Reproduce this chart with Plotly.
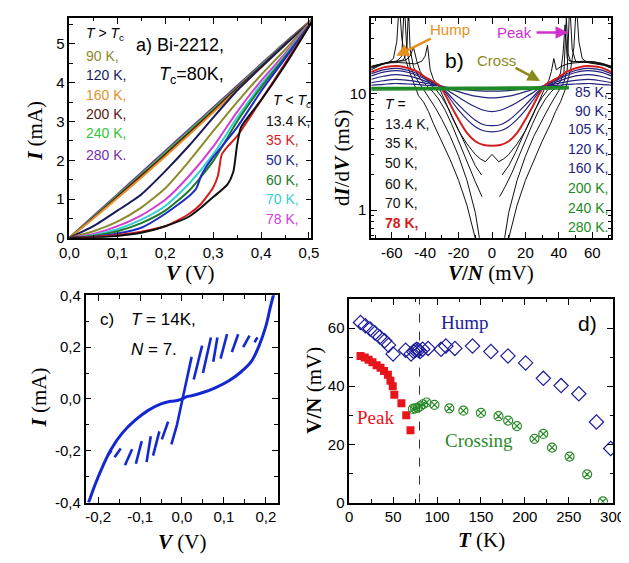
import plotly.graph_objects as go

W, H = 629, 563
def px(x): return x / W
def py(y): return 1 - y / H

# ---------------- Panel a data: I-V curves (V in V, I in mA) ----------------
a_V_lin = [0, 0.05, 0.1, 0.15, 0.2, 0.25, 0.3, 0.35, 0.4, 0.45, 0.505]
a_I_280 = [0, 0.56, 1.12, 1.68, 2.24, 2.80, 3.36, 3.92, 4.48, 5.04, 5.62]
a_I_240 = [0, 0.54, 1.09, 1.64, 2.20, 2.76, 3.32, 3.88, 4.45, 5.02, 5.62]
a_I_200 = [0, 0.52, 1.06, 1.60, 2.15, 2.71, 3.28, 3.85, 4.42, 5.00, 5.62]
a_I_160 = [0, 0.50, 1.02, 1.55, 2.10, 2.66, 3.23, 3.81, 4.39, 4.98, 5.62]
a_I_120 = [0, 0.30, 0.70, 1.12, 1.72, 2.38, 3.10, 3.80, 4.40, 4.98, 5.60]
a_I_90 = [0, 0.17, 0.42, 0.78, 1.28, 1.98, 2.75, 3.50, 4.20, 4.85, 5.60]
a_I_78 = [0, 0.10, 0.30, 0.58, 0.98, 1.60, 2.35, 3.25, 4.05, 4.75, 5.58]
a_I_70 = [0, 0.07, 0.22, 0.47, 0.82, 1.40, 2.15, 3.10, 3.95, 4.70, 5.57]
a_I_60 = [0, 0.05, 0.17, 0.38, 0.70, 1.22, 1.98, 3.00, 3.88, 4.67, 5.56]
a_V_50 = [0, 0.05, 0.1, 0.15, 0.2, 0.25, 0.265, 0.275, 0.285, 0.3, 0.35, 0.4, 0.45, 0.505]
a_I_50 = [0, 0.03, 0.11, 0.26, 0.62, 1.08, 1.28, 1.60, 1.82, 2.08, 2.85, 3.78, 4.62, 5.56]
a_V_35 = [0, 0.05, 0.1, 0.15, 0.2, 0.25, 0.275, 0.3, 0.31, 0.318, 0.33, 0.35, 0.4, 0.45, 0.505]
a_I_35 = [0, 0.02, 0.07, 0.16, 0.30, 0.62, 0.88, 1.30, 1.60, 2.15, 2.35, 2.62, 3.55, 4.50, 5.55]
a_V_13 = [0, 0.05, 0.1, 0.15, 0.2, 0.25, 0.275, 0.3, 0.33, 0.342, 0.35, 0.358, 0.375, 0.4, 0.45, 0.505]
a_I_13 = [0, 0.01, 0.05, 0.13, 0.30, 0.55, 0.78, 1.05, 1.38, 1.70, 2.40, 2.85, 3.15, 3.55, 4.45, 5.55]

# ---------------- Panel b data: dI/dV (mS) vs V/N (mV) ----------------
b_V = [-72.3, -65, -60, -55, -50, -45, -40, -36, -32, -28, -24, -20, -15, -10, -5, 0,
       5, 10, 15, 20, 24, 28, 32, 36, 40, 45, 50, 55, 60, 65, 71.5]
b_G_78 = [15.3, 16.8, 17.2, 17.2, 16.5, 15.5, 13.9, 12.9, 11.9, 9.8, 7.6, 6.0, 4.6, 3.9, 3.62, 3.57,
          3.62, 3.9, 4.6, 6.0, 7.6, 9.8, 11.9, 12.9, 13.9, 15.5, 16.5, 17.2, 17.2, 16.8, 15.3]
b_G_85 = [14.8, 16.0, 16.4, 16.4, 15.8, 14.9, 13.6, 12.7, 11.9, 10.3, 8.6, 7.2, 6.0, 5.2, 4.8, 4.7,
          4.8, 5.2, 6.0, 7.2, 8.6, 10.3, 11.9, 12.7, 13.6, 14.9, 15.8, 16.4, 16.4, 16.0, 14.8]
b_G_90 = [14.2, 15.3, 15.7, 15.7, 15.2, 14.4, 13.3, 12.5, 11.9, 10.6, 9.2, 8.0, 6.8, 5.9, 5.4, 5.3,
          5.4, 5.9, 6.8, 8.0, 9.2, 10.6, 11.9, 12.5, 13.3, 14.4, 15.2, 15.7, 15.7, 15.3, 14.2]
b_G_105 = [13.3, 14.1, 14.5, 14.5, 14.2, 13.6, 12.8, 12.2, 11.8, 11.0, 10.1, 9.3, 8.4, 7.7, 7.2, 7.0,
           7.2, 7.7, 8.4, 9.3, 10.1, 11.0, 11.8, 12.2, 12.8, 13.6, 14.2, 14.5, 14.5, 14.1, 13.3]
b_G_120 = [12.4, 12.9, 13.2, 13.2, 13.0, 12.7, 12.3, 12.0, 11.8, 11.3, 10.8, 10.4, 9.9, 9.5, 9.3, 9.2,
           9.3, 9.5, 9.9, 10.4, 10.8, 11.3, 11.8, 12.0, 12.3, 12.7, 13.0, 13.2, 13.2, 12.9, 12.4]
b_G_160 = [11.8, 12.0, 12.2, 12.2, 12.1, 12.0, 11.8, 11.7, 11.7, 11.4, 11.2, 11.0, 10.8, 10.6, 10.5, 10.5,
           10.5, 10.6, 10.8, 11.0, 11.2, 11.4, 11.7, 11.7, 11.8, 12.0, 12.1, 12.2, 12.2, 12.0, 11.8]
b_V_green = [-72.3, -40, 0, 40, 46]
b_G_200 = [11.25, 11.3, 11.35, 11.45, 11.5]
b_G_240 = [11.0, 11.05, 11.1, 11.2, 11.25]
b_G_280 = [10.75, 10.8, 10.85, 10.95, 11.0]

b_V_13L = [-72.3, -67, -62, -59, -57, -55.5, -54, -52, -49, -46, -44, -41, -38, -35, -30, -25, -20, -15, -10]
b_G_13L = [16.0, 17.5, 18.5, 20, 28, 60, 30, 20, 15, 11.5, 9.6, 8.5, 7.0, 5.5, 3.9, 2.7, 1.8, 1.1, 0.57]
b_V_13R = [10, 15, 20, 25, 30, 35, 38, 41, 44, 47, 49, 50.5, 52, 54, 57, 62, 67, 71.5]
b_G_13R = [0.57, 1.1, 1.8, 2.7, 3.9, 5.5, 7.0, 8.5, 11, 16, 25, 60, 28, 20, 18.5, 18, 17.5, 16.5]
b_V_35L = [-72.3, -66, -61, -57, -54, -52.5, -51, -49, -46, -43, -40, -37, -34, -30, -25, -20, -15, -10, -7.5]
b_G_35L = [16.5, 17.8, 18.5, 19, 21, 60, 24, 17, 14, 12, 10.5, 9.0, 7.6, 6.0, 4.3, 2.9, 1.8, 0.95, 0.57]
b_V_35R = [7.5, 10, 15, 20, 25, 30, 34, 37, 40, 43, 45, 46.5, 48, 50, 53, 57, 62, 67, 71.5]
b_G_35R = [0.57, 0.95, 1.8, 2.9, 4.3, 6.0, 7.6, 9.0, 10.5, 12.5, 16, 60, 24, 19, 18.5, 18.6, 18.2, 17.6, 16.8]
b_V_50L = [-72.3, -66, -61, -56, -53, -51, -50, -49, -47, -44, -41, -38, -35, -32, -28, -24, -20, -15, -10, -6]
b_G_50L = [16.8, 18.0, 18.7, 19, 19.5, 23, 55, 24, 17, 14, 12.5, 11.3, 10.2, 9.0, 7.2, 5.4, 3.9, 2.6, 1.75, 1.3]
b_V_50R = [4.5, 8, 12, 16, 20, 24, 28, 32, 35, 38, 41, 43, 44.5, 45.5, 47, 50, 55, 61, 66, 71.5]
b_G_50R = [1.3, 1.6, 2.1, 2.9, 3.9, 5.4, 7.2, 9.0, 10.2, 11.3, 12.8, 15, 45, 22, 19, 18.8, 19, 18.7, 18, 17]
b_V_60L = [-72.3, -66, -61, -56, -52, -49, -47, -45, -43, -40, -36, -33, -30, -26, -22, -18, -14, -10, -6.3]
b_G_60L = [17.2, 18.2, 18.8, 19, 19.2, 21, 25, 19, 15.5, 13.5, 11.8, 10.6, 9.3, 7.4, 5.6, 4.2, 3.1, 2.4, 2.0]
b_V_60R = [6, 10, 14, 18, 22, 26, 30, 33, 36, 39, 41, 42.5, 43.7, 45, 47, 50, 55, 61, 66, 71.5]
b_G_60R = [2.0, 2.4, 3.1, 4.2, 5.6, 7.4, 9.3, 10.6, 11.8, 13.0, 15, 22, 39, 20, 18.8, 18.8, 19, 18.8, 18.2, 17.2]
b_V_70 = [-72.3, -66, -61, -56, -51, -46, -42, -40, -38.6, -37, -35, -32, -28, -24, -20, -15, -10, -7, -4, -2, 0,
          2, 4, 7, 10, 15, 20, 24, 28, 32, 34, 35.5, 37, 38.5, 41, 45, 50, 55, 61, 66, 71.5]
b_G_70 = [17, 18, 18.4, 18.5, 18.3, 18, 19, 21, 26, 16, 13.2, 11.5, 8.6, 6.3, 4.8, 3.7, 3.0, 2.75, 2.6, 2.8, 3.0,
          2.8, 2.6, 2.75, 3.0, 3.7, 4.8, 6.3, 8.6, 11.5, 13, 15.5, 20, 16, 17, 18, 18.4, 18.6, 18.4, 18, 16.8]

# ---------------- Panel c data: I-V at 14 K, N=7 ----------------
c_main_V = [-0.2227, -0.2074, -0.188, -0.169, -0.142, -0.111, -0.0806, -0.05, -0.027, -0.0115, 0.0,
            0.0115, 0.023, 0.05, 0.0806, 0.111, 0.142, 0.165, 0.184, 0.2, 0.211, 0.219]
c_main_I = [-0.4, -0.331, -0.256, -0.194, -0.131, -0.081, -0.044, -0.019, -0.009, -0.006, 0.0,
            0.009, 0.0125, 0.025, 0.044, 0.069, 0.106, 0.144, 0.206, 0.281, 0.356, 0.406]
c_central_V = [-0.0253, -0.012, 0.0, 0.012, 0.023]
c_central_I = [-0.175, -0.1, -0.01, 0.08, 0.1625]
c_br_V_lo = [0.028, 0.050, 0.0745, 0.092, 0.119, 0.146, 0.173,
             -0.033, -0.054, -0.0745, -0.096, -0.119, -0.146, -0.168]
c_br_I_lo = [0.075, 0.100, 0.144, 0.156, 0.181, 0.200, 0.219,
             -0.0875, -0.125, -0.144, -0.1625, -0.194, -0.191, -0.200]
c_br_V_hi = [0.048, 0.069, 0.0845, 0.1075, 0.134, 0.161, 0.180,
             -0.048, -0.069, -0.0845, -0.110, -0.136, -0.161, -0.176]
c_br_I_hi = [0.206, 0.2375, 0.2375, 0.250, 0.250, 0.244, 0.2375,
             -0.156, -0.219, -0.244, -0.250, -0.256, -0.225, -0.215]

# ---------------- Panel d data ----------------
d_hump_T = [12.8, 18.3, 23.8, 29.3, 34.8, 40.3, 44.7, 49.9, 64.2, 70.4, 73.3, 75.2, 77, 78.8, 80.7, 83.6,
            89.8, 104.5, 110, 120.3, 140.4, 161.3, 180.8, 200.9, 221.1, 241.3, 261.5, 281.6, 297.8]
d_hump_V = [61.9, 60.8, 59.7, 58.3, 56.9, 55.6, 54.1, 51.1, 52.4, 51.1, 51.9, 52.4, 52.7, 52.4, 51.9, 52.7,
            53.0, 52.7, 53.8, 53.0, 53.8, 51.9, 50.4, 48.0, 42.7, 40.2, 37.4, 27.7, 18.6]
d_peak_T = [12.8, 17.6, 22.0, 26.4, 31.2, 35.6, 39.6, 44.0, 46.9, 49.5, 51.3, 59.4, 64.9, 69.7]
d_peak_V = [50.4, 49.9, 49.1, 48.2, 47.2, 46.3, 45.2, 43.9, 41.9, 40.0, 37.1, 34.1, 30.0, 24.9]
d_cross_T = [72.5, 75, 78, 81, 84, 88, 97, 114, 130, 150, 170, 181, 191, 211, 221, 231, 251, 271, 289]
d_cross_V = [32.2, 32.4, 32.6, 33.2, 33.8, 34.4, 33.6, 32.4, 31.6, 30.8, 29.7, 28.2, 26.3, 21.9, 23.6,
             18.9, 15.8, 9.7, 0.4]
d_Tc = 80

fig = go.Figure()

# ---- panel a traces
a_curves = [
    (a_V_lin, a_I_280, "#7a2fa8"), (a_V_lin, a_I_240, "#33c43a"), (a_V_lin, a_I_200, "#5a1414"),
    (a_V_lin, a_I_160, "#e0922e"), (a_V_lin, a_I_120, "#1a1a5a"), (a_V_lin, a_I_90, "#8c8a2a"),
    (a_V_lin, a_I_78, "#d43cd4"), (a_V_lin, a_I_70, "#33d0d0"), (a_V_lin, a_I_60, "#1e7a28"),
    (a_V_50, a_I_50, "#1e2ac8"), (a_V_35, a_I_35, "#d21e1e"), (a_V_13, a_I_13, "#111111"),
]
for v, i, c in a_curves:
    fig.add_trace(go.Scatter(x=v, y=i, mode="lines", line=dict(color=c, width=2, shape="spline", smoothing=0.6),
                             xaxis="x", yaxis="y", showlegend=False, hoverinfo="skip"))

# ---- panel b traces
blk = dict(color="#111111", width=1)
for v, g in [(b_V_13L, b_G_13L), (b_V_13R, b_G_13R), (b_V_35L, b_G_35L), (b_V_35R, b_G_35R),
             (b_V_50L, b_G_50L), (b_V_50R, b_G_50R), (b_V_60L, b_G_60L), (b_V_60R, b_G_60R),
             (b_V, None), (b_V_70, b_G_70)]:
    if g is None:
        continue
    fig.add_trace(go.Scatter(x=v, y=g, mode="lines", line=blk, xaxis="x2", yaxis="y2",
                             showlegend=False, hoverinfo="skip"))
for g in [b_G_160, b_G_120, b_G_105, b_G_90, b_G_85]:
    fig.add_trace(go.Scatter(x=b_V, y=g, mode="lines", line=dict(color="#23237e", width=1.2, shape="spline"),
                             xaxis="x2", yaxis="y2", showlegend=False, hoverinfo="skip"))
fig.add_trace(go.Scatter(x=b_V, y=b_G_78, mode="lines", line=dict(color="#d41e1e", width=2, shape="spline"),
                         xaxis="x2", yaxis="y2", showlegend=False, hoverinfo="skip"))
for g in [b_G_200, b_G_240, b_G_280]:
    fig.add_trace(go.Scatter(x=b_V_green, y=g, mode="lines", line=dict(color="#1e8a26", width=1.6, shape="spline"),
                             xaxis="x2", yaxis="y2", showlegend=False, hoverinfo="skip"))

# ---- panel c traces
cblue = "#1428d2"
fig.add_trace(go.Scatter(x=c_main_V, y=c_main_I, mode="lines", line=dict(color=cblue, width=3, shape="spline"),
                         xaxis="x3", yaxis="y3", showlegend=False, hoverinfo="skip"))
fig.add_trace(go.Scatter(x=c_central_V, y=c_central_I, mode="lines", line=dict(color=cblue, width=2.6),
                         xaxis="x3", yaxis="y3", showlegend=False, hoverinfo="skip"))
br_x, br_y = [], []
for v0, i0, v1, i1 in zip(c_br_V_lo, c_br_I_lo, c_br_V_hi, c_br_I_hi):
    br_x += [v0, v1, None]
    br_y += [i0, i1, None]
fig.add_trace(go.Scatter(x=br_x, y=br_y, mode="lines", line=dict(color=cblue, width=2.6),
                         xaxis="x3", yaxis="y3", showlegend=False, hoverinfo="skip"))

# ---- panel d traces
fig.add_trace(go.Scatter(x=[d_Tc, d_Tc], y=[0, 70], mode="lines",
                         line=dict(color="#333333", width=1, dash="dash"),
                         xaxis="x4", yaxis="y4", showlegend=False, hoverinfo="skip"))
fig.add_trace(go.Scatter(x=d_hump_T, y=d_hump_V, mode="markers",
                         marker=dict(symbol="diamond-open", size=11, color="#1c1c9c", line=dict(width=1.2)),
                         xaxis="x4", yaxis="y4", showlegend=False, hoverinfo="skip"))
fig.add_trace(go.Scatter(x=d_peak_T, y=d_peak_V, mode="markers",
                         marker=dict(symbol="square", size=8, color="#e8141c"),
                         xaxis="x4", yaxis="y4", showlegend=False, hoverinfo="skip"))
fig.add_trace(go.Scatter(x=d_cross_T, y=d_cross_V, mode="markers",
                         marker=dict(symbol="circle-x-open", size=9, color="#2a8a2a", line=dict(width=1.2)),
                         xaxis="x4", yaxis="y4", showlegend=False, hoverinfo="skip"))

# ---- axes
tickfont = dict(family="Liberation Sans, Arial, sans-serif", size=15, color="black")
def ax(domain, rng, tv, tt, minor, anchor, **kw):
    d = dict(domain=domain, range=rng, tickvals=tv, ticktext=tt, showline=True, linecolor="black",
             linewidth=1.5, mirror="allticks", ticks="inside", ticklen=6, tickwidth=1.3,
             tickcolor="black", showgrid=False, zeroline=False, tickfont=tickfont, anchor=anchor,
             minor=dict(ticks="inside", ticklen=3.5, tickwidth=1.2, tickcolor="black", showgrid=False, **minor))
    d.update(kw)
    return d

a_xt = [0, 0.1, 0.2, 0.3, 0.4, 0.5]
a_yt = [0, 1, 2, 3, 4, 5]
b_xt = [-60, -40, -20, 0, 20, 40, 60]
b_yt = [1, 10]
b_yminor = [0.6, 0.7, 0.8, 0.9, 2, 3, 4, 5, 6, 7, 8, 9, 20, 30, 40]
c_xt = [-0.2, -0.1, 0.0, 0.1, 0.2]
c_yt = [-0.4, -0.2, 0.0, 0.2, 0.4]
d_xt = [0, 50, 100, 150, 200, 250, 300]
d_yt = [0, 20, 40, 60]

def comma(vals, fmt):
    return [fmt.format(v).replace(".", ",") for v in vals]

layout = dict(
    width=W, height=H, margin=dict(l=0, r=0, t=0, b=0), paper_bgcolor="white", plot_bgcolor="white",
    xaxis=ax([px(53.3), px(304)], [0, 0.505], a_xt, comma(a_xt, "{:.1f}"), dict(dtick=0.05, tick0=0), "y"),
    yaxis=ax([py(227.7), py(1)], [0, 5.67], a_yt, [str(v) for v in a_yt], dict(dtick=0.5, tick0=0), "x"),
    xaxis2=ax([px(366), px(615)], [-72.3, 71.5], b_xt, [str(v) for v in b_xt], dict(dtick=10, tick0=0), "y2"),
    yaxis2=ax([py(227.7), py(1)], [-0.239, 1.65], b_yt, ["1", "10"], dict(tickvals=b_yminor), "x2", type="log"),
    xaxis3=ax([px(70), px(269)], [-0.23, 0.228], c_xt, comma(c_xt, "{:.1f}"), dict(dtick=0.05, tick0=0), "y3"),
    yaxis3=ax([py(500.7), py(287)], [-0.4, 0.4], c_yt, comma(c_yt, "{:.1f}"), dict(dtick=0.1, tick0=0), "x3"),
    xaxis4=ax([px(343.3), px(616.7)], [0, 300.6], d_xt, [str(v) for v in d_xt], dict(dtick=25, tick0=0), "y4"),
    yaxis4=ax([py(500.7), py(290.7)], [0, 70], d_yt, [str(v) for v in d_yt], dict(dtick=10, tick0=0), "x4"),
)
fig.update_layout(**layout)

SANS = "Liberation Sans, Arial, sans-serif"
SERIF = "Liberation Serif, Times New Roman, serif"
ann = []
def txt(x, y, s, size=14, color="black", family=SANS, xanchor="center", angle=0):
    ann.append(dict(x=px(x), y=py(y), xref="paper", yref="paper", text=s, showarrow=False,
                    font=dict(family=family, size=size, color=color), xanchor=xanchor, yanchor="middle",
                    textangle=angle))
def arrow(x0, y0, x1, y1, color):
    ann.append(dict(x=px(x1), y=py(y1), xref="paper", yref="paper", ax=x0 - x1, ay=y0 - y1, text="",
                    showarrow=True, arrowhead=2, arrowsize=1, arrowwidth=2.5, arrowcolor=color))

# axis titles
txt(178, 264, "<b><i>V</i></b> (V)", 21, family=SERIF)
txt(490, 264, "<b><i>V</i>/<i>N</i></b> (mV)", 21, family=SERIF)
txt(170, 541, "<b><i>V</i></b> (V)", 21, family=SERIF)
txt(480, 539, "<b><i>T</i></b> (K)", 21, family=SERIF)
txt(18, 117, "<b><i>I</i></b> (mA)", 21, family=SERIF, angle=-90)
txt(335, 145, "d<b><i>I</i></b>/d<b><i>V</i></b> (mS)", 21, family=SERIF, angle=-90)
txt(22, 392, "<b><i>I</i></b> (mA)", 21, family=SERIF, angle=-90)
txt(307, 385, "<b>V/N</b> (mV)", 21, family=SERIF, angle=-90)

# panel a labels
txt(168, 29, "a) Bi-2212,", 18)
txt(180, 60, "<i>T</i><sub>c</sub>=80K,", 18)
txt(68, 18, "<i>T</i> > <i>T</i><sub>c</sub>", 14, xanchor="left")
for y, s, c in [(40, "90 K,", "#8c8a2a"), (60, "120 K,", "#1a1a5a"), (80, "160 K,", "#e0922e"),
                (100, "200 K,", "#5a1414"), (120, "240 K,", "#33c43a"), (142, "280 K.", "#7a2fa8")]:
    txt(68, y, s, 14, c, xanchor="left")
txt(262, 87, "<i>T</i> < <i>T</i><sub>c</sub>", 14, xanchor="left")
for y, s, c in [(107, "13.4 K,", "#111111"), (127, "35 K,", "#d21e1e"), (147, "50 K,", "#1e2a8c"),
                (168, "60 K,", "#1e7a28"), (188, "70 K,", "#33d0d0"), (208, "78 K,", "#d43cd4")]:
    txt(255, y, s, 14, c, xanchor="left")

# panel b labels
txt(378, 90, "<i>T</i> =", 14, xanchor="left")
for y, s in [(110, "13.4 K,"), (130, "35 K,"), (151, "50 K,"), (172, "60 K,"), (192, "70 K,")]:
    txt(378, y, s, 14, "#111111", xanchor="left")
txt(378, 212, "<b>78 K,</b>", 14, "#d21e1e", xanchor="left")
for y, s, c in [(77, "85 K,", "#23237e"), (97, "90 K,", "#23237e"), (116, "105 K,", "#23237e"),
                (136, "120 K,", "#23237e"), (156, "160 K,", "#23237e"), (176, "200 K,", "#1e8a26"),
                (197, "240 K,", "#1e8a26"), (217, "280 K.", "#1e8a26")]:
    txt(613, y, s, 14, c, xanchor="right")
txt(452, 45, "b)", 21)
txt(448, 13, "Hump", 15, "#e8901c")
arrow(428, 22, 392, 40, "#e8901c")
txt(515, 16, "Peak", 15, "#d030d0")
arrow(537, 16, 570, 16, "#d030d0")
txt(496, 45, "Cross", 15, "#8a8a1a")
arrow(515, 52, 541, 66, "#8a8a1a")

# panel c labels
txt(83, 312, "c)", 17, xanchor="left")
txt(115, 312, "<i>T</i> = 14K,", 17, xanchor="left")
txt(115, 343, "<i>N</i> = 7.", 17, xanchor="left")

# panel d labels
txt(463, 315, "Hump", 19, "#1c1c9c", family=SERIF)
txt(590, 316, "d)", 21)
txt(370, 413, "Peak", 19, "#e8141c", family=SERIF)
txt(478, 437, "Crossing", 19, "#2a8a2a", family=SERIF)

fig.update_layout(annotations=ann)
fig.write_html("out.html")
